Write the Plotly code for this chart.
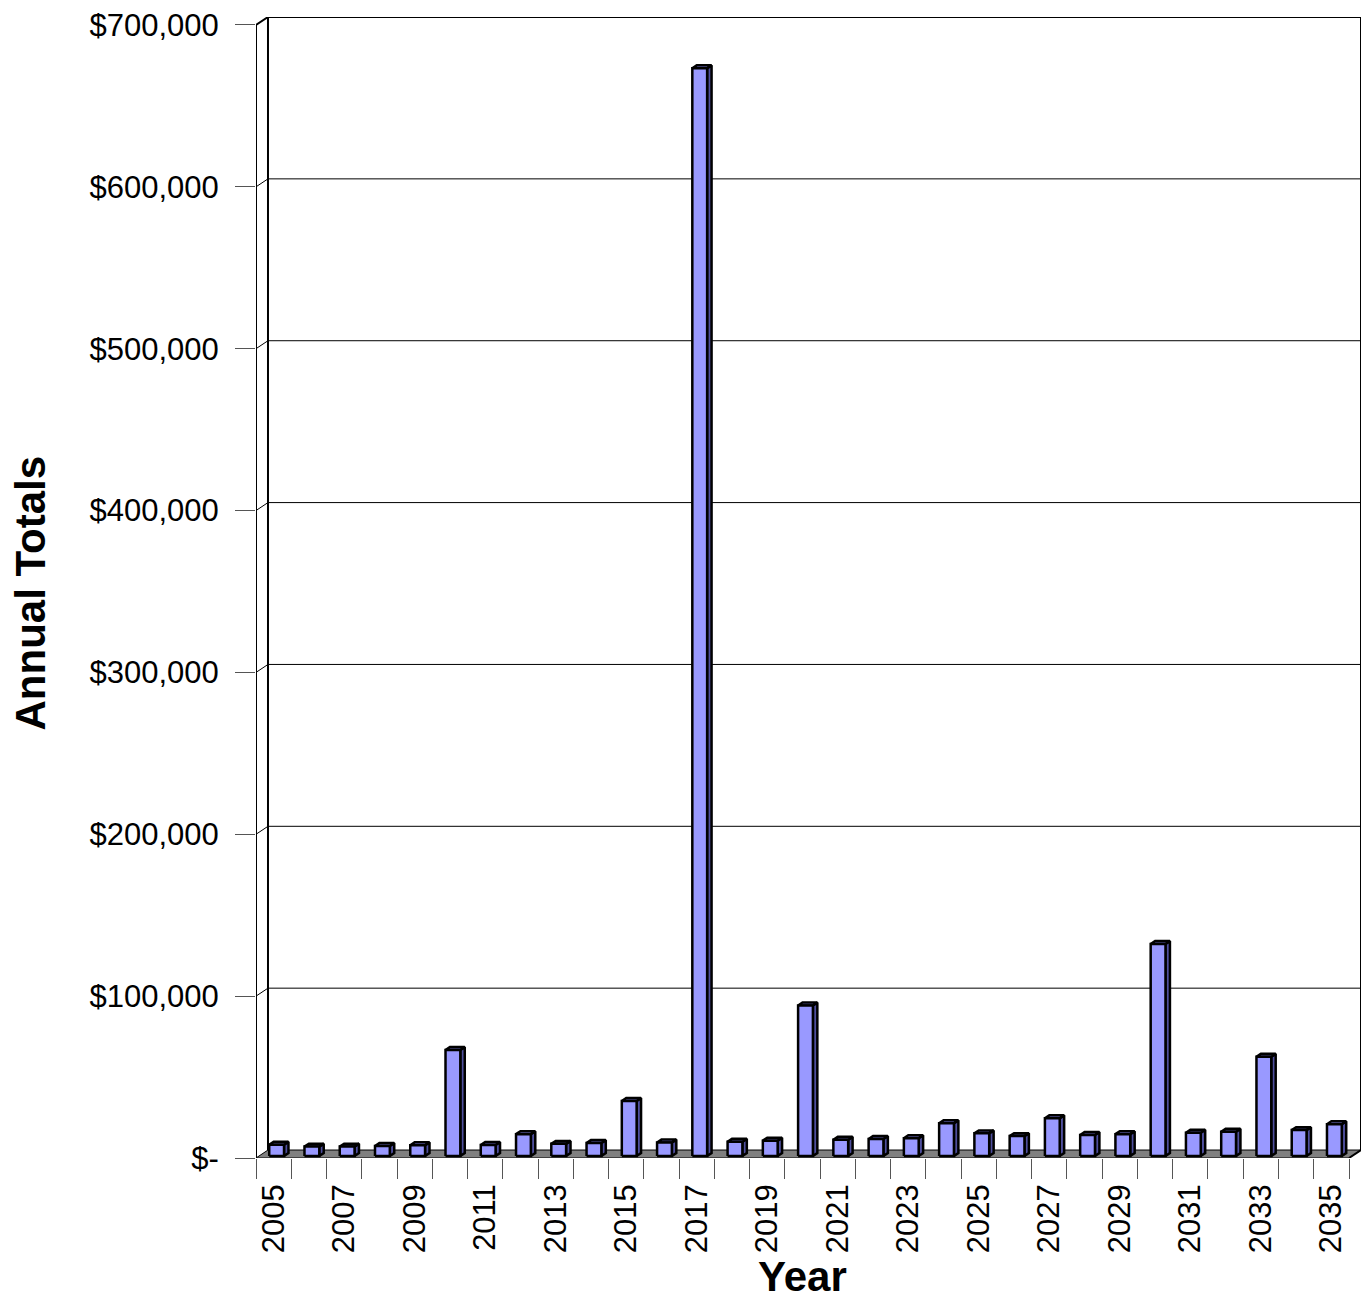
import plotly.graph_objects as go

# ---- data ----
years = list(range(2005, 2036))
totals = [7000, 5800, 5800, 6200, 6600, 65500, 6800, 13500, 7500, 8000,
          34000, 8300, 672000, 8800, 9500, 93000, 10000, 10500, 11000, 20200,
          14000, 12300, 23300, 13000, 13500, 131000, 14400, 15000, 61300, 16000,
          19600]
y_ticks = [0, 100000, 200000, 300000, 400000, 500000, 600000, 700000]
y_tick_text = ["$-", "$100,000", "$200,000", "$300,000", "$400,000",
               "$500,000", "$600,000", "$700,000"]
x_label_years = years[::2]

# ---- 3D look parameters (depth offset in axis units) ----
N = len(years)
DX = 0.34      # horizontal depth offset (category units)
DY = 4930      # vertical depth offset (value units)
F1, F2, W = 0.25, 0.62, 0.21
YMAX = 700000
FONT = "Liberation Sans, Arial, sans-serif"

fig = go.Figure()

def line_trace(xs, ys, width=1, color="black"):
    fig.add_trace(go.Scatter(x=xs, y=ys, mode="lines",
                             line=dict(color=color, width=width),
                             hoverinfo="skip", showlegend=False))

xl, xr = -0.5, N - 0.5

# back-wall gridlines and side-wall diagonals
gx, gy = [], []
for v in y_ticks[1:-1]:
    gx += [xl, xl + DX, xr + DX, None]
    gy += [v, v + DY, v + DY, None]
line_trace(gx, gy, width=1, color="black")

# floor
fig.add_trace(go.Scatter(x=[xl, xr, xr + DX, xl + DX, xl],
                         y=[0, 0, DY, DY, 0], mode="lines", fill="toself",
                         fillcolor="#808080", line=dict(color="black", width=1),
                         hoverinfo="skip", showlegend=False))

# walls outline
line_trace([xl, xl, None, xl, xl + DX, xr + DX, xr + DX, None, xl + DX, xl + DX, None, xr, xr + DX],
           [0, YMAX, None, YMAX, YMAX + DY, YMAX + DY, DY, None, DY, YMAX + DY, None, 0, DY],
           width=2, color="black")

# bars
fx, fy, sx, sy, tx, ty = [], [], [], [], [], []
dxs, dys = (F2 - F1) * DX, (F2 - F1) * DY
for i, v in enumerate(totals):
    x0 = i - W + F1 * DX
    x1 = i + W + F1 * DX
    yb = F1 * DY
    yt = v + F1 * DY
    fx += [x0, x1, x1, x0, x0, None]
    fy += [yb, yb, yt, yt, yb, None]
    sx += [x1, x1 + dxs, x1 + dxs, x1, x1, None]
    sy += [yb, yb + dys, yt + dys, yt, yb, None]
    tx += [x0, x1, x1 + dxs, x0 + dxs, x0, None]
    ty += [yt, yt, yt + dys, yt + dys, yt, None]

for xs, ys, col in [(sx, sy, "#4F4F9E"), (tx, ty, "#7373D1"), (fx, fy, "#9999FF")]:
    fig.add_trace(go.Scatter(x=xs, y=ys, mode="lines", fill="toself",
                             fillcolor=col, line=dict(color="black", width=2.5),
                             hoverinfo="skip", showlegend=False))

fig.update_layout(
    width=1369, height=1302,
    margin=dict(l=256, r=8, t=14, b=144),
    paper_bgcolor="white", plot_bgcolor="white",
    showlegend=False,
    xaxis=dict(range=[xl, xr + DX], showgrid=False, zeroline=False, showline=False,
               tickmode="array",
               tickvals=[years.index(y) for y in x_label_years],
               ticktext=[str(y) for y in x_label_years],
               ticks="", tickangle=-90, ticklabelstandoff=19,
               tickfont=dict(family=FONT, size=31, color="black"),
               minor=dict(tickmode="array",
                          tickvals=[i - 0.5 for i in range(N + 1)],
                          ticks="outside", ticklen=20, tickwidth=1,
                          tickcolor="#555555", showgrid=False)),
    yaxis=dict(range=[0, YMAX + DY], showgrid=False, zeroline=False, showline=False,
               tickmode="array", tickvals=y_ticks, ticktext=y_tick_text,
               ticks="outside", ticklen=20, tickwidth=1, tickcolor="#555555",
               ticklabelstandoff=10,
               tickfont=dict(family=FONT, size=31, color="black")),
    annotations=[
        dict(text="<b>Year</b>", xref="paper", yref="paper", x=0.495, y=-0.1035,
             xanchor="center", yanchor="middle", showarrow=False,
             font=dict(family=FONT, size=42, color="black")),
        dict(text="<b>Annual Totals</b>", xref="paper", yref="paper", x=-0.2045, y=0.4948,
             xanchor="center", yanchor="middle", showarrow=False, textangle=-90,
             font=dict(family=FONT, size=42, color="black")),
    ],
)

fig.write_html("out.html")
